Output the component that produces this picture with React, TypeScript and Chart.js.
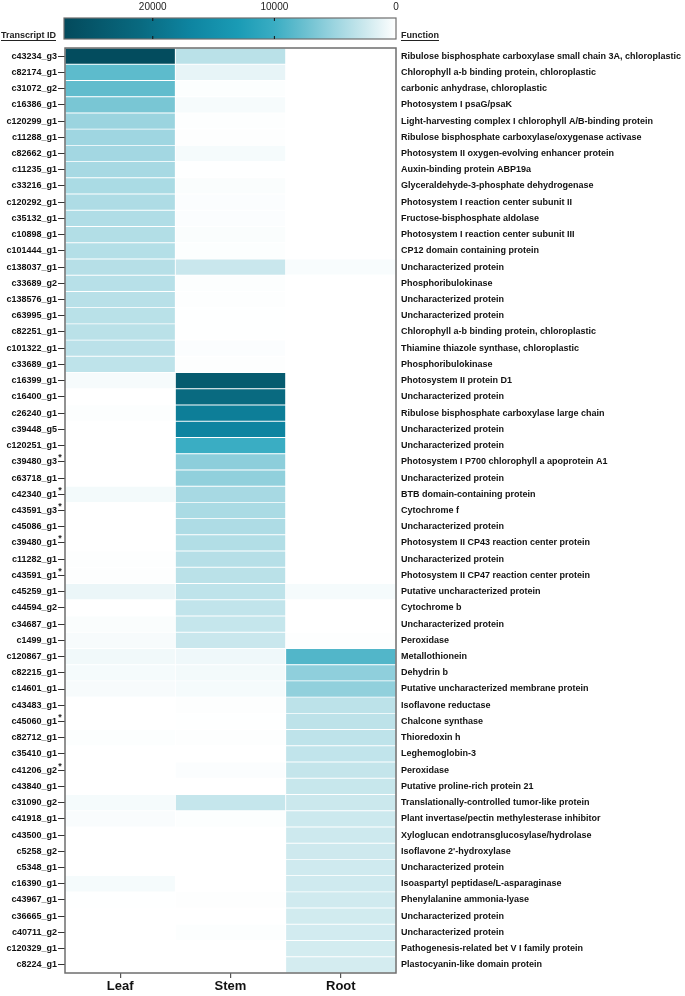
import React, { useEffect, useRef } from "react";
import { Chart, registerables } from "chart.js";

Chart.register(...registerables);

const TRANSCRIPT_IDS = [
  "c43234_g3", "c82174_g1", "c31072_g2", "c16386_g1", "c120299_g1", "c11288_g1", "c82662_g1", "c11235_g1",
  "c33216_g1", "c120292_g1", "c35132_g1", "c10898_g1", "c101444_g1", "c138037_g1", "c33689_g2", "c138576_g1",
  "c63995_g1", "c82251_g1", "c101322_g1", "c33689_g1", "c16399_g1", "c16400_g1", "c26240_g1", "c39448_g5",
  "c120251_g1", "c39480_g3", "c63718_g1", "c42340_g1", "c43591_g3", "c45086_g1", "c39480_g1", "c11282_g1",
  "c43591_g1", "c45259_g1", "c44594_g2", "c34687_g1", "c1499_g1", "c120867_g1", "c82215_g1", "c14601_g1",
  "c43483_g1", "c45060_g1", "c82712_g1", "c35410_g1", "c41206_g2", "c43840_g1", "c31090_g2", "c41918_g1",
  "c43500_g1", "c5258_g2", "c5348_g1", "c16390_g1", "c43967_g1", "c36665_g1", "c40711_g2", "c120329_g1",
  "c8224_g1",
];

const STARRED_IDS = ["c39480_g3", "c42340_g1", "c43591_g3", "c39480_g1", "c43591_g1", "c45060_g1", "c41206_g2"];

const FUNCTIONS = [
  "Ribulose bisphosphate carboxylase small chain 3A, chloroplastic",
  "Chlorophyll a-b binding protein, chloroplastic",
  "carbonic anhydrase, chloroplastic",
  "Photosystem I psaG/psaK",
  "Light-harvesting complex I chlorophyll A/B-binding protein",
  "Ribulose bisphosphate carboxylase/oxygenase activase",
  "Photosystem II oxygen-evolving enhancer protein",
  "Auxin-binding protein ABP19a",
  "Glyceraldehyde-3-phosphate dehydrogenase",
  "Photosystem I reaction center subunit II",
  "Fructose-bisphosphate aldolase",
  "Photosystem I reaction center subunit III",
  "CP12 domain containing protein",
  "Uncharacterized protein",
  "Phosphoribulokinase",
  "Uncharacterized protein",
  "Uncharacterized protein",
  "Chlorophyll a-b binding protein, chloroplastic",
  "Thiamine thiazole synthase, chloroplastic",
  "Phosphoribulokinase",
  "Photosystem II protein D1",
  "Uncharacterized protein",
  "Ribulose bisphosphate carboxylase large chain",
  "Uncharacterized protein",
  "Uncharacterized protein",
  "Photosystem I P700 chlorophyll a apoprotein A1",
  "Uncharacterized protein",
  "BTB domain-containing protein",
  "Cytochrome f",
  "Uncharacterized protein",
  "Photosystem II CP43 reaction center protein",
  "Uncharacterized protein",
  "Photosystem II CP47 reaction center protein",
  "Putative uncharacterized protein",
  "Cytochrome b",
  "Uncharacterized protein",
  "Peroxidase",
  "Metallothionein",
  "Dehydrin b",
  "Putative uncharacterized membrane protein",
  "Isoflavone reductase",
  "Chalcone synthase",
  "Thioredoxin h",
  "Leghemoglobin-3",
  "Peroxidase",
  "Putative proline-rich protein 21",
  "Translationally-controlled tumor-like protein",
  "Plant invertase/pectin methylesterase inhibitor",
  "Xyloglucan endotransglucosylase/hydrolase",
  "Isoflavone 2'-hydroxylase",
  "Uncharacterized protein",
  "Isoaspartyl peptidase/L-asparaginase",
  "Phenylalanine ammonia-lyase",
  "Uncharacterized protein",
  "Uncharacterized protein",
  "Pathogenesis-related bet V I family protein",
  "Plastocyanin-like domain protein",
];

const TISSUES = ["Leaf", "Stem", "Root"];

const LEAF = [
  27000, 8200, 8000, 6800, 5100, 4900, 4700, 4500, 4300, 4100, 4000, 3900, 3800, 3700, 3650, 3600,
  3550, 3500, 3450, 3300, 450, 0, 150, 0, 0, 0, 0, 600, 0, 0, 0, 100,
  100, 1000, 0, 250, 400, 700, 500, 400, 0, 0, 150, 0, 0, 0, 500, 300,
  0, 0, 0, 500, 50, 0, 0, 0, 0,
];

const STEM = [
  3500, 1200, 150, 450, 100, 100, 500, 50, 250, 200, 200, 250, 150, 2700, 150, 100,
  50, 50, 200, 100, 24000, 21000, 18000, 17000, 10000, 5800, 5600, 4500, 4300, 4100, 3900, 3700,
  3500, 3300, 3100, 2900, 2700, 800, 600, 500, 100, 50, 100, 0, 200, 0, 2900, 150,
  0, 0, 0, 0, 100, 0, 150, 0, 0,
];

const ROOT = [
  0, 0, 0, 0, 0, 0, 0, 0, 0, 0, 0, 0, 0, 350, 0, 0,
  0, 0, 0, 0, 0, 0, 0, 0, 0, 0, 0, 0, 0, 0, 0, 0,
  0, 500, 0, 0, 100, 8800, 5700, 5600, 3400, 3350, 3300, 3100, 2950, 2800, 2600, 2550,
  2500, 2450, 2400, 2400, 2350, 2300, 2250, 2200, 2150,
];

const SCALE_MAX = 27300;
const SCALE_TICKS = [20000, 10000, 0];

const STOP_VALUES = [0, 2500, 5000, 7500, 10000, 13000, 17000, 21000, 27300];
const STOP_COLORS = ["#ffffff", "#cde9ee", "#9dd5e0", "#6bc0d0", "#3aadc3", "#1a9bb5", "#0e84a0", "#096a80", "#034a5c"];

function hexToRgb(h: string): number[] {
  const n = parseInt(h.slice(1), 16);
  return [(n >> 16) & 255, (n >> 8) & 255, n & 255];
}

function colorFor(v: number): string {
  const val = Math.max(0, Math.min(SCALE_MAX, v));
  for (let i = 0; i < STOP_VALUES.length - 1; i++) {
    const a = STOP_VALUES[i];
    const b = STOP_VALUES[i + 1];
    if (val <= b) {
      const t = (val - a) / (b - a);
      const c1 = hexToRgb(STOP_COLORS[i]);
      const c2 = hexToRgb(STOP_COLORS[i + 1]);
      const c = c1.map((x, k) => Math.round(x + (c2[k] - x) * t));
      return `rgb(${c[0]},${c[1]},${c[2]})`;
    }
  }
  return STOP_COLORS[STOP_COLORS.length - 1];
}

const FONT = '"Liberation Sans", Arial, Helvetica, sans-serif';

const decorPlugin = {
  id: "decor",
  afterDraw(chart: any) {
    const ctx = chart.ctx;
    const area = chart.chartArea;
    ctx.save();
    // plot border
    ctx.strokeStyle = "#6e6e6e";
    ctx.lineWidth = 1.5;
    ctx.strokeRect(area.left, area.top, area.right - area.left, area.bottom - area.top);

    // colour bar
    const cbL = area.left - 1;
    const cbR = area.right;
    const cbT = 18;
    const cbB = 39;
    const grad = ctx.createLinearGradient(cbL, 0, cbR, 0);
    STOP_VALUES.forEach((v, i) => {
      grad.addColorStop(1 - v / SCALE_MAX, STOP_COLORS[i]);
    });
    ctx.fillStyle = grad;
    ctx.fillRect(cbL, cbT, cbR - cbL, cbB - cbT);
    ctx.strokeStyle = "#6e6e6e";
    ctx.lineWidth = 1.2;
    ctx.strokeRect(cbL, cbT, cbR - cbL, cbB - cbT);
    const xOf = (v: number) => cbR - (v / SCALE_MAX) * (cbR - cbL);
    ctx.fillStyle = "#222";
    ctx.font = `10px ${FONT}`;
    ctx.textAlign = "center";
    ctx.textBaseline = "middle";
    SCALE_TICKS.forEach((v) => {
      const x = xOf(v);
      ctx.fillText(String(v), x, 7);
      if (v > 0) {
        ctx.strokeStyle = "#111";
        ctx.lineWidth = 1;
        ctx.beginPath();
        ctx.moveTo(x, cbT);
        ctx.lineTo(x, cbT + 3);
        ctx.moveTo(x, cbB - 3);
        ctx.lineTo(x, cbB);
        ctx.stroke();
      }
    });

    // headers
    ctx.font = `bold 9px ${FONT}`;
    ctx.fillStyle = "#222";
    ctx.textAlign = "left";
    ctx.textBaseline = "alphabetic";
    const headers: [string, number][] = [["Transcript ID", 1], ["Function", area.right + 5]];
    headers.forEach(([t, x]) => {
      ctx.fillText(t, x, 38);
      const w = ctx.measureText(t).width;
      ctx.strokeStyle = "#222";
      ctx.lineWidth = 1;
      ctx.beginPath();
      ctx.moveTo(x, 40.5);
      ctx.lineTo(x + w, 40.5);
      ctx.stroke();
    });

    // asterisks
    const yScale = chart.scales.y;
    ctx.font = `bold 9px ${FONT}`;
    ctx.textAlign = "center";
    ctx.textBaseline = "middle";
    TRANSCRIPT_IDS.forEach((id, i) => {
      if (STARRED_IDS.includes(id)) {
        const y = yScale.getPixelForValue(i);
        ctx.fillText("*", area.left - 5, y - 4);
      }
    });
    ctx.restore();
  },
};

export default function App() {
  const ref = useRef<HTMLCanvasElement>(null);
  useEffect(() => {
    document.body.style.margin = "0";
    const series = [LEAF, STEM, ROOT];
    const chart = new Chart(ref.current as HTMLCanvasElement, {
      type: "bar",
      data: {
        labels: TRANSCRIPT_IDS,
        datasets: series.map((vals, j) => ({
          label: TISSUES[j],
          data: vals.map(() => [j, j + 1]),
          backgroundColor: vals.map(colorFor),
          borderColor: "rgba(255,255,255,0.45)",
          borderWidth: 0.8,
          borderSkipped: false,
          barPercentage: 1,
          categoryPercentage: 1,
          grouped: false,
        })) as any,
      },
      options: {
        indexAxis: "y",
        responsive: false,
        animation: false,
        layout: { padding: { top: 48, left: 0, right: 0, bottom: 0 } },
        plugins: { legend: { display: false }, tooltip: { enabled: false } },
        scales: {
          x: {
            type: "linear",
            position: "bottom",
            min: 0,
            max: 3,
            afterBuildTicks: (s: any) => {
              s.ticks = [0.5, 1.5, 2.5].map((v) => ({ value: v }));
            },
            afterFit: (s: any) => {
              s.height = 23;
            },
            grid: { display: true, drawOnChartArea: false, drawTicks: true, tickLength: 5, color: "#555", lineWidth: 1.2 },
            border: { display: false },
            ticks: {
              callback: (v: any) => TISSUES[Math.floor(Number(v))],
              font: { family: FONT, size: 13, weight: "bold" },
              color: "#111",
              padding: 1,
              maxRotation: 0,
            },
          },
          y: {
            type: "category",
            position: "left",
            offset: true,
            afterFit: (s: any) => {
              s.width = 65;
            },
            grid: { display: true, offset: false, drawOnChartArea: false, drawTicks: true, tickLength: 7, color: "#333", lineWidth: 1 },
            border: { display: false },
            ticks: {
              autoSkip: false,
              font: { family: FONT, size: 9, weight: "bold" },
              color: "#111",
              padding: 1,
            },
          },
          y2: {
            type: "category",
            position: "right",
            labels: FUNCTIONS,
            offset: true,
            afterFit: (s: any) => {
              s.width = 289;
            },
            grid: { display: false, drawTicks: false, tickLength: 0 },
            border: { display: false },
            ticks: {
              autoSkip: false,
              font: { family: FONT, size: 9, weight: "bold" },
              color: "#111",
              padding: 5,
            },
          },
        } as any,
      },
      plugins: [decorPlugin],
    });
    return () => chart.destroy();
  }, []);
  return (
    <div style={{ width: 685, height: 996 }}>
      <canvas ref={ref} width={685} height={996} />
    </div>
  );
}
